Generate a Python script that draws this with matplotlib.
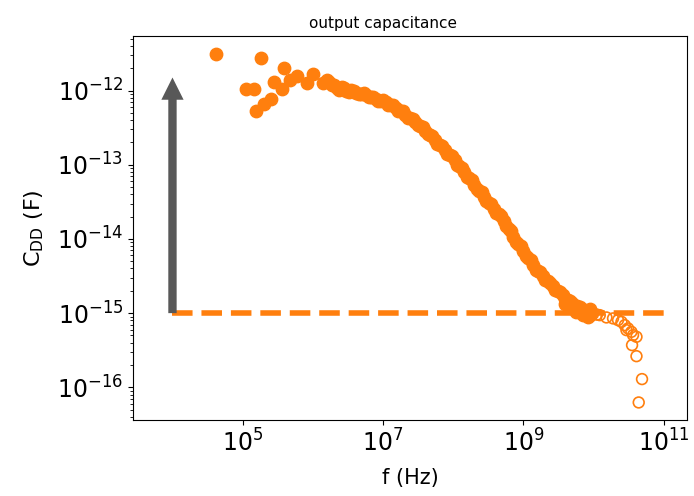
import numpy as np
import matplotlib
matplotlib.use('Agg')
import matplotlib.pyplot as plt

# log10 of frequency (Hz) and of C_DD (F)
# filled points (trusted range)
logf_filled = [4.615, 5.256, 5.047, 5.165, 5.189, 5.303, 5.407, 5.588, 5.446, 5.556,
	5.674, 5.769, 5.912, 5.997, 6.140, 6.20, 6.27, 6.34, 6.41, 6.48,
	6.55, 6.62, 6.69, 6.76, 6.83, 6.90, 6.97, 7.04, 7.11, 7.18,
	7.25, 7.32, 7.39, 7.46, 7.53, 7.60, 7.67, 7.74, 7.81, 7.88,
	7.95, 8.02, 8.09, 8.16, 8.23, 8.30, 8.37, 8.44, 8.51, 8.58,
	8.65, 8.72, 8.79, 8.86, 8.93, 9.00, 9.07, 9.14, 9.21, 9.28,
	9.35, 9.42, 9.49, 9.56, 9.63, 9.70, 9.77, 9.84, 9.91, 9.98,
	9.75, 9.85, 9.92, 9.95, 9.60, 9.66,
	6.235, 6.305, 6.375, 6.445, 6.515, 6.585, 6.655, 6.725, 6.795, 6.865,
	6.935, 7.005, 7.075, 7.145, 7.215, 7.285, 7.355, 7.425, 7.495, 7.565,
	7.635, 7.705, 7.775, 7.845, 7.915, 7.985, 8.055, 8.125, 8.195, 8.265,
	8.335, 8.405, 8.475, 8.545, 8.615, 8.685, 8.755, 8.825, 8.895, 8.965,
	9.035, 9.105, 9.175, 9.245, 9.315, 9.385, 9.455, 9.525, 9.595, 9.665,
	9.735, 9.805, 9.875, 9.945]
logc_filled = [-11.510, -11.559, -11.977, -11.977, -12.278, -12.183, -12.120, -11.689, -11.883, -11.972,
	-11.860, -11.806, -11.900, -11.770, -11.904, -11.86, -11.93, -11.96, -11.95, -12.00,
	-11.99, -12.03, -12.04, -12.06, -12.09, -12.11, -12.14, -12.16, -12.20, -12.24,
	-12.28, -12.33, -12.37, -12.42, -12.48, -12.54, -12.60, -12.67, -12.74, -12.80,
	-12.87, -12.93, -13.02, -13.10, -13.18, -13.27, -13.35, -13.43, -13.51, -13.59,
	-13.67, -13.76, -13.86, -13.97, -14.07, -14.16, -14.26, -14.35, -14.43, -14.50,
	-14.57, -14.64, -14.70, -14.76, -14.82, -14.87, -14.91, -14.95, -14.98, -15.00,
	-14.98, -15.03, -15.05, -14.95, -14.88, -14.92,
	-11.88, -11.92, -11.99, -11.97, -12.02, -12.00, -12.05, -12.03, -12.09, -12.08,
	-12.14, -12.13, -12.20, -12.20, -12.28, -12.28, -12.37, -12.38, -12.47, -12.49,
	-12.59, -12.61, -12.72, -12.75, -12.86, -12.88, -13.00, -13.04, -13.16, -13.20,
	-13.33, -13.37, -13.49, -13.53, -13.65, -13.69, -13.83, -13.89, -14.04, -14.09,
	-14.23, -14.28, -14.42, -14.45, -14.56, -14.59, -14.69, -14.71, -14.81, -14.83,
	-14.91, -14.92, -14.99, -15.02]

# open points (high frequency end)
logf_open = [10.05, 10.09, 10.185, 10.279, 10.35, 10.399, 10.446, 10.493, 10.541, 10.564,
	10.613, 10.470, 10.550, 10.613, 10.692, 10.645]
logc_open = [-15.02, -15.027, -15.058, -15.071, -15.094, -15.117, -15.162, -15.206, -15.252, -15.296,
	-15.319, -15.229, -15.431, -15.580, -15.889, -16.204]

floor_c = 1e-15
floor_f = [1e4, 1e11]
arrow_top = 1.5e-12
xticks = [1e5, 1e7, 1e9, 1e11]

f_filled = 10**np.array(logf_filled)
c_filled = 10**np.array(logc_filled)
f_open = 10**np.array(logf_open)
c_open = 10**np.array(logc_open)

fig = plt.figure(figsize=(6.94, 4.96), dpi=100)
ax = fig.add_axes([0.1916, 0.153, 0.798, 0.774])

ax.annotate('', xy=(floor_f[0], arrow_top), xytext=(floor_f[0], floor_c),
	arrowprops=dict(facecolor='#585858', edgecolor='none', width=6, headwidth=16, headlength=16, shrink=0))

ax.plot(floor_f, [floor_c, floor_c], '--', color='tab:orange', lw=4)

ax.scatter(f_filled, c_filled, s=80, color='tab:orange', zorder=3)
ax.scatter(f_open, c_open, s=60, facecolors='none', edgecolors='tab:orange', linewidths=1.2, zorder=3)

ax.set_xscale('log')
ax.set_yscale('log')
ax.set_xlim(10**3.437, 10**11.33)
ax.set_ylim(10**-16.442, 10**-11.267)
ax.set_xticks(xticks)
ax.xaxis.set_minor_locator(matplotlib.ticker.NullLocator())

ax.tick_params(labelsize=17)
ax.set_xlabel('f (Hz)', fontsize=15, labelpad=8)
ax.set_ylabel(r'C$_{\rm DD}$ (F)', fontsize=16, labelpad=8)
ax.set_title('output capacitance', fontsize=11, x=0.451)

plt.savefig('out.png')
